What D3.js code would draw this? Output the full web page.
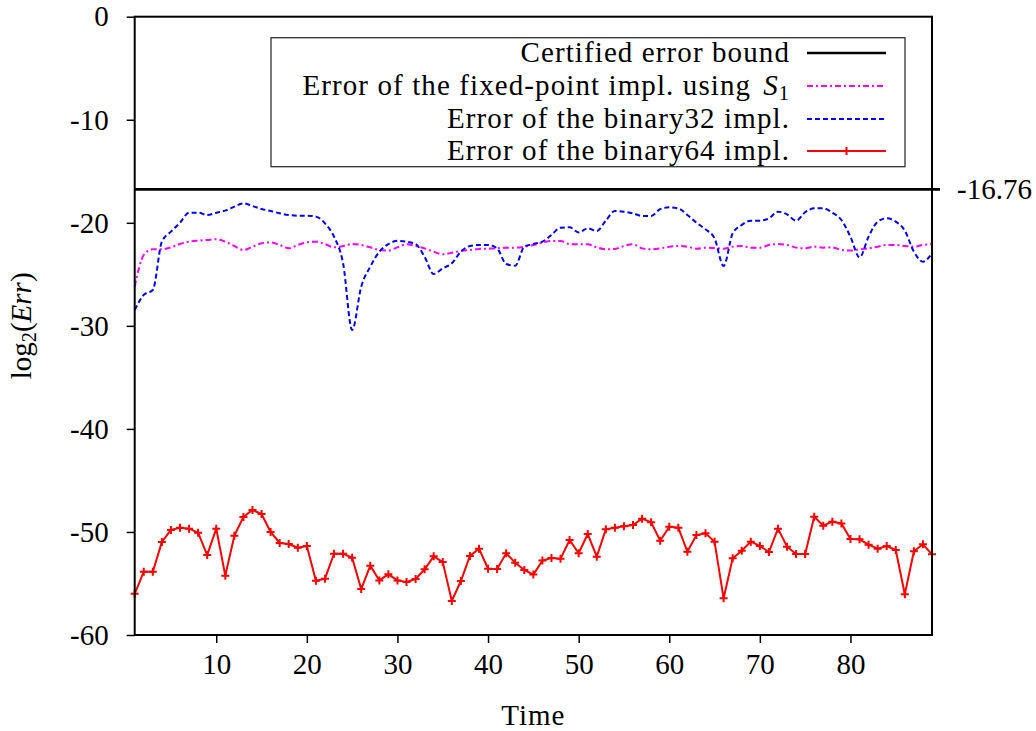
<!DOCTYPE html>
<html>
<head>
<meta charset="utf-8">
<script src="https://cdn.jsdelivr.net/npm/d3@7"></script>
<style>
  html, body { margin: 0; padding: 0; background: #fff; }
  svg { display: block; }
  svg text { font-family: "Liberation Serif", serif; }
</style>
</head>
<body>
<svg id="chart" width="1036" height="731"></svg>
<script>
// Time steps 1..89
const timeSteps = d3.range(1, 90);

// log2 of the error of the binary64 implementation
const errBinary64 = [
  -56.0, -53.86, -53.86, -50.97, -49.8, -49.59, -49.68, -50.07, -52.24, -49.68,
  -54.24, -50.36, -48.55, -47.87, -48.26, -50.0, -51.07, -51.17, -51.53, -51.36,
  -54.73, -54.53, -52.11, -52.11, -52.5, -55.54, -53.27, -54.7, -54.11, -54.7,
  -54.86, -54.57, -53.63, -52.37, -52.92, -56.7, -54.76, -52.33, -51.62, -53.57,
  -53.6, -52.07, -52.98, -53.69, -54.14, -52.78, -52.53, -52.6, -50.78, -52.07,
  -50.2, -52.4, -49.75, -49.59, -49.45, -49.33, -48.71, -49.07, -50.85, -49.49,
  -49.59, -51.91, -50.3, -50.13, -50.94, -56.44, -52.56, -51.82, -50.94, -51.36,
  -51.95, -49.68, -51.43, -52.14, -52.14, -48.52, -49.39, -49.0, -49.17, -50.69,
  -50.72, -51.23, -51.62, -51.36, -51.75, -56.05, -51.88, -51.2, -52.17
];

// log2 of the error of the binary32 implementation
const errBinary32 = [
  -28.46, -27.0, -26.52, -21.83, -20.86, -19.99, -19.02, -19.02, -19.24, -19.02,
  -18.82, -18.43, -18.11, -18.37, -18.66, -18.85, -19.08, -19.24, -19.31, -19.31,
  -19.4, -20.05, -21.35, -23.93, -30.4, -26.2, -24.26, -22.8, -22.06, -21.75,
  -21.83, -22.06, -23.29, -24.97, -24.42, -23.93, -22.8, -22.25, -22.15, -22.15,
  -22.48, -24.0, -24.16, -22.32, -22.06, -21.83, -21.18, -20.47, -20.44, -20.93,
  -20.54, -20.8, -19.79, -18.85, -18.92, -19.08, -19.34, -19.34, -18.67, -18.5,
  -18.6, -19.24, -19.99, -20.63, -21.51, -24.19, -21.02, -20.21, -19.79, -19.79,
  -19.57, -18.92, -19.18, -19.79, -18.98, -18.6, -18.6, -19.02, -19.73, -21.35,
  -23.35, -21.35, -19.89, -19.57, -19.89, -20.76, -22.8, -23.77, -22.96
];

// log2 of the error of the fixed-point implementation using S1
const errFixedS1 = [
  -26.2, -23.12, -22.57, -22.57, -22.38, -22.06, -21.83, -21.73, -21.67, -21.6,
  -21.83, -22.25, -22.64, -22.32, -21.99, -21.9, -22.15, -22.48, -22.15, -21.9,
  -21.83, -22.06, -22.38, -22.25, -22.06, -22.15, -22.38, -22.64, -22.7, -22.38,
  -22.09, -22.25, -22.48, -22.8, -23.06, -22.9, -22.74, -22.64, -22.54, -22.51,
  -22.48, -22.41, -22.41, -22.32, -22.15, -21.93, -21.77, -21.77, -22.06, -22.09,
  -22.09, -22.38, -22.57, -22.54, -22.25, -22.09, -22.48, -22.57, -22.48, -22.32,
  -22.25, -22.32, -22.51, -22.41, -22.45, -22.51, -22.32, -22.25, -22.41, -22.41,
  -22.15, -22.06, -22.15, -22.41, -22.48, -22.32, -22.41, -22.38, -22.64, -22.7,
  -22.57, -22.48, -22.32, -22.15, -22.15, -22.25, -22.32, -22.15, -22.06
];

// Certified error bound (constant)
const certifiedBound = -16.76;

const xTicks = [10, 20, 30, 40, 50, 60, 70, 80];
const yTicks = [0, -10, -20, -30, -40, -50, -60];

const legendLabels = [
  "Certified error bound",
  "Error of the fixed-point impl. using",
  "Error of the binary32 impl.",
  "Error of the binary64 impl."
];

const FONT = '"Liberation Serif", serif';
const FS = 29;

const svg = d3.select("#chart");
const plot = { left: 134.7, right: 932, top: 16.7, bottom: 635 };

const x = d3.scaleLinear().domain([1, 89]).range([plot.left, plot.right]);
const y = d3.scaleLinear().domain([-60, 0]).range([plot.bottom, plot.top]);

// Axes
const yAxis = d3.axisLeft(y).tickValues(yTicks).tickSize(8).tickPadding(18)
  .tickFormat(d => String(d));
const gy = svg.append("g").attr("transform", `translate(${plot.left},0)`).call(yAxis);

const xAxis = d3.axisBottom(x).tickValues(xTicks).tickSize(8).tickPadding(10)
  .tickFormat(d => String(d));
const gx = svg.append("g").attr("transform", `translate(0,${plot.bottom})`).call(xAxis);

[gx, gy].forEach(g => {
  g.attr("font-family", null).attr("font-size", null);
  g.select(".domain").remove();
  g.selectAll(".tick line").attr("stroke", "#000").attr("stroke-width", 1.5);
  g.selectAll(".tick text").attr("fill", "#000")
    .style("font-family", FONT).style("font-size", FS + "px");
});

// Certified bound line, extending out as a tick on the right side
svg.append("line")
  .attr("x1", plot.left).attr("x2", plot.right + 8)
  .attr("y1", y(certifiedBound)).attr("y2", y(certifiedBound))
  .attr("stroke", "#000").attr("stroke-width", 2.6);
svg.append("text")
  .attr("x", plot.right + 25).attr("y", y(certifiedBound))
  .attr("dy", "0.32em")
  .style("font-family", FONT).style("font-size", FS + "px")
  .text(certifiedBound.toFixed(2));

// Series lines
const smoothLine = d3.line()
  .x((d, i) => x(timeSteps[i]))
  .y(d => y(d))
  .curve(d3.curveMonotoneX);
const straightLine = d3.line()
  .x((d, i) => x(timeSteps[i]))
  .y(d => y(d));

svg.append("path")
  .attr("d", smoothLine(errFixedS1))
  .attr("fill", "none").attr("stroke", "#ff00ff").attr("stroke-width", 2)
  .attr("stroke-dasharray", "6,3,2,3");

svg.append("path")
  .attr("d", smoothLine(errBinary32))
  .attr("fill", "none").attr("stroke", "#0000ff").attr("stroke-width", 2)
  .attr("stroke-dasharray", "5,3");

svg.append("path")
  .attr("d", straightLine(errBinary64))
  .attr("fill", "none").attr("stroke", "#ff0000").attr("stroke-width", 2);

const plusSize = 4;
const plusPath = (cx, cy) => `M${cx - plusSize},${cy}H${cx + plusSize}M${cx},${cy - plusSize}V${cy + plusSize}`;
svg.append("path")
  .attr("d", errBinary64.map((v, i) => plusPath(x(timeSteps[i]), y(v))).join(""))
  .attr("fill", "none").attr("stroke", "#ff0000").attr("stroke-width", 2);

// Plot frame
svg.append("rect")
  .attr("x", plot.left).attr("y", plot.top)
  .attr("width", plot.right - plot.left).attr("height", plot.bottom - plot.top)
  .attr("fill", "none").attr("stroke", "#000").attr("stroke-width", 2);

// Legend
const lg = { left: 271, right: 905, top: 37.7, bottom: 166.7 };
svg.append("rect")
  .attr("x", lg.left).attr("y", lg.top)
  .attr("width", lg.right - lg.left).attr("height", lg.bottom - lg.top)
  .attr("fill", "#fff").attr("stroke", "#333").attr("stroke-width", 1.3);

const rowY = [53, 86, 119, 151];
const textRight = 790, sx1 = 807, sx2 = 886;
const styles = [
  { stroke: "#000", width: 2.6, dash: null },
  { stroke: "#ff00ff", width: 2, dash: "6,3,2,3" },
  { stroke: "#0000ff", width: 2, dash: "5,3" },
  { stroke: "#ff0000", width: 2, dash: null }
];
legendLabels.forEach((lab, i) => {
  const t = svg.append("text")
    .attr("x", textRight).attr("y", rowY[i] + 9)
    .attr("text-anchor", "end")
    .style("font-family", FONT).style("font-size", FS + "px")
    .style("letter-spacing", "1.1px");
  t.append("tspan").text(lab);
  if (i === 1) {
    t.append("tspan").attr("dx", 12).style("font-style", "italic").text("S");
    t.append("tspan").style("font-size", (FS * 0.7) + "px").attr("dy", 5).text("1");
  }
  const l = svg.append("line")
    .attr("x1", sx1).attr("x2", sx2).attr("y1", rowY[i]).attr("y2", rowY[i])
    .attr("stroke", styles[i].stroke).attr("stroke-width", styles[i].width);
  if (styles[i].dash) l.attr("stroke-dasharray", styles[i].dash);
  if (i === 3) {
    svg.append("path").attr("d", plusPath((sx1 + sx2) / 2, rowY[i]))
      .attr("stroke", "#ff0000").attr("stroke-width", 2);
  }
});

// Axis titles
svg.append("text")
  .attr("x", (plot.left + plot.right) / 2).attr("y", 725)
  .attr("text-anchor", "middle")
  .style("font-family", FONT).style("font-size", FS + "px")
  .style("letter-spacing", "1px")
  .text("Time");

const yl = svg.append("text")
  .attr("transform", `translate(31,${(plot.top + plot.bottom) / 2}) rotate(-90)`)
  .attr("text-anchor", "middle")
  .style("font-family", FONT).style("font-size", FS + "px");
yl.append("tspan").text("log");
yl.append("tspan").style("font-size", (FS * 0.7) + "px").attr("dy", 5).text("2");
yl.append("tspan").attr("dy", -5).text("(");
yl.append("tspan").style("font-style", "italic").text("Err");
yl.append("tspan").text(")");
</script>
</body>
</html>
